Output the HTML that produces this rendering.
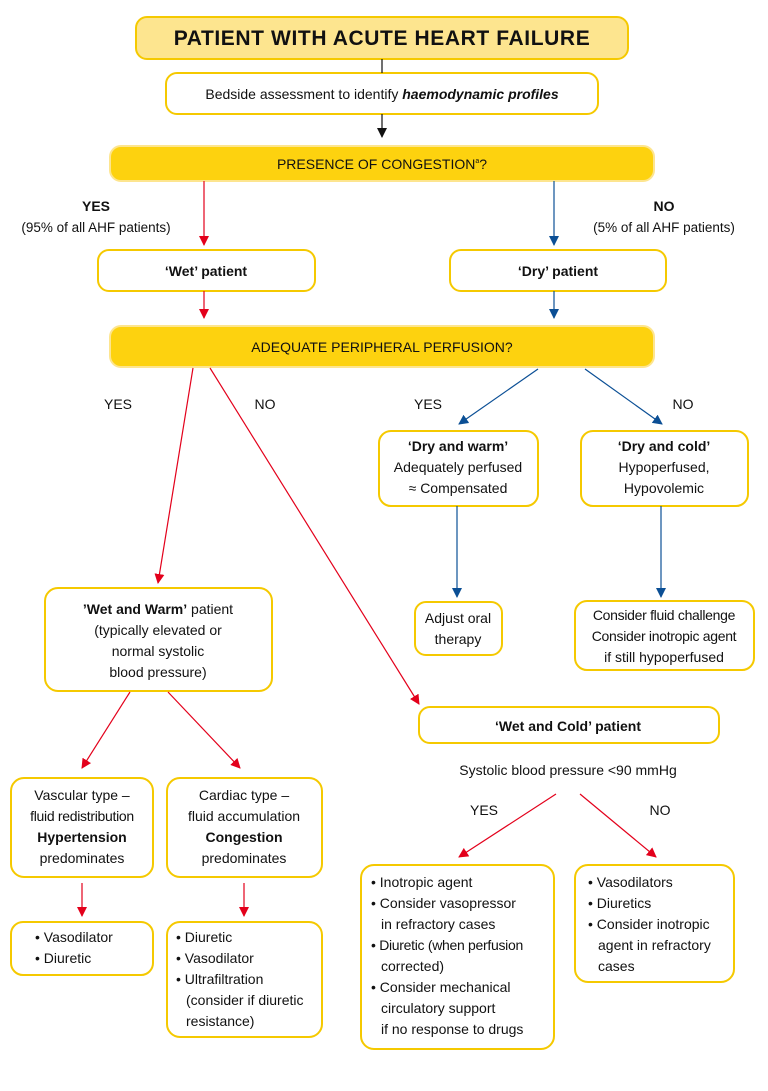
<!DOCTYPE html>
<html><head><meta charset="utf-8"><style>
html,body{margin:0;padding:0;background:#fff}
svg{display:block}
text{font-family:"Liberation Sans",sans-serif;font-size:14px;fill:#111}
.b{font-weight:bold}
</style></head><body>
<svg width="768" height="1091" viewBox="0 0 768 1091" xmlns="http://www.w3.org/2000/svg">
<defs>
<marker id="ar" viewBox="0 0 10 10" refX="9" refY="5" markerWidth="10" markerHeight="10" markerUnits="userSpaceOnUse" orient="auto"><path d="M0,0 L10,5 L0,10 z" fill="#e3001b"/></marker>
<marker id="ab" viewBox="0 0 10 10" refX="9" refY="5" markerWidth="10" markerHeight="10" markerUnits="userSpaceOnUse" orient="auto"><path d="M0,0 L10,5 L0,10 z" fill="#0b4f95"/></marker>
<marker id="ak" viewBox="0 0 10 10" refX="9" refY="5" markerWidth="10" markerHeight="10" markerUnits="userSpaceOnUse" orient="auto"><path d="M0,0 L10,5 L0,10 z" fill="#111"/></marker>
</defs>
<g stroke="#f5c900" stroke-width="2">
<rect x="136" y="17" width="492" height="42" rx="11" fill="#fde58f"/>
<rect x="166" y="73" width="432" height="41" rx="11" fill="#fff"/>
<rect x="110" y="146" width="544" height="35" rx="11" fill="#fdd20f" stroke="#fde58f"/>
<rect x="98" y="250" width="217" height="41" rx="11" fill="#fff"/>
<rect x="450" y="250" width="216" height="41" rx="11" fill="#fff"/>
<rect x="110" y="326" width="544" height="41" rx="11" fill="#fdd20f" stroke="#fde58f"/>
<rect x="379" y="431" width="159" height="75" rx="12" fill="#fff"/>
<rect x="581" y="431" width="167" height="75" rx="12" fill="#fff"/>
<rect x="415" y="602" width="87" height="53" rx="11" fill="#fff"/>
<rect x="575" y="601" width="179" height="69" rx="12" fill="#fff"/>
<rect x="45" y="588" width="227" height="103" rx="13" fill="#fff"/>
<rect x="419" y="707" width="300" height="36" rx="11" fill="#fff"/>
<rect x="11" y="778" width="142" height="99" rx="13" fill="#fff"/>
<rect x="167" y="778" width="155" height="99" rx="13" fill="#fff"/>
<rect x="11" y="922" width="142" height="53" rx="12" fill="#fff"/>
<rect x="167" y="922" width="155" height="115" rx="13" fill="#fff"/>
<rect x="361" y="865" width="193" height="184" rx="13" fill="#fff"/>
<rect x="575" y="865" width="159" height="117" rx="13" fill="#fff"/>
</g>
<g stroke-width="1.2" fill="none">
<line x1="382" y1="59" x2="382" y2="73" stroke="#111"/>
<line x1="382" y1="114" x2="382" y2="137" stroke="#111" marker-end="url(#ak)"/>
<line x1="204" y1="181" x2="204" y2="245" stroke="#e3001b" marker-end="url(#ar)"/>
<line x1="554" y1="181" x2="554" y2="245" stroke="#0b4f95" marker-end="url(#ab)"/>
<line x1="204" y1="291" x2="204" y2="318" stroke="#e3001b" marker-end="url(#ar)"/>
<line x1="554" y1="291" x2="554" y2="318" stroke="#0b4f95" marker-end="url(#ab)"/>
<line x1="193" y1="368" x2="158" y2="583" stroke="#e3001b" marker-end="url(#ar)"/>
<line x1="210" y1="368" x2="419" y2="704" stroke="#e3001b" marker-end="url(#ar)"/>
<line x1="538" y1="369" x2="459" y2="424" stroke="#0b4f95" marker-end="url(#ab)"/>
<line x1="585" y1="369" x2="662" y2="424" stroke="#0b4f95" marker-end="url(#ab)"/>
<line x1="457" y1="506" x2="457" y2="597" stroke="#0b4f95" marker-end="url(#ab)"/>
<line x1="661" y1="506" x2="661" y2="597" stroke="#0b4f95" marker-end="url(#ab)"/>
<line x1="130" y1="692" x2="82" y2="768" stroke="#e3001b" marker-end="url(#ar)"/>
<line x1="168" y1="692" x2="240" y2="768" stroke="#e3001b" marker-end="url(#ar)"/>
<line x1="82" y1="883" x2="82" y2="916" stroke="#e3001b" marker-end="url(#ar)"/>
<line x1="244" y1="883" x2="244" y2="916" stroke="#e3001b" marker-end="url(#ar)"/>
<line x1="556" y1="794" x2="459" y2="857" stroke="#e3001b" marker-end="url(#ar)"/>
<line x1="580" y1="794" x2="656" y2="857" stroke="#e3001b" marker-end="url(#ar)"/>
</g>
<g text-anchor="middle">
<text x="382" y="45" class="b" style="font-size:21px" letter-spacing="0.6">PATIENT WITH ACUTE HEART FAILURE</text>
<text x="382" y="99">Bedside assessment to identify <tspan class="b" font-style="italic">haemodynamic profiles</tspan></text>
<text x="382" y="169">PRESENCE OF CONGESTION<tspan style="font-size:7px" dy="-6">a</tspan><tspan dy="6">?</tspan></text>
<text x="96" y="211" class="b">YES</text>
<text x="96" y="232" style="font-size:13.5px">(95% of all AHF patients)</text>
<text x="664" y="211" class="b">NO</text>
<text x="664" y="232" style="font-size:13.5px">(5% of all AHF patients)</text>
<text x="206" y="276" class="b">‘Wet’ patient</text>
<text x="558" y="276" class="b">‘Dry’ patient</text>
<text x="382" y="352">ADEQUATE PERIPHERAL PERFUSION?</text>
<text x="118" y="409">YES</text>
<text x="265" y="409">NO</text>
<text x="428" y="409">YES</text>
<text x="683" y="409">NO</text>
<text x="458" y="451" class="b">‘Dry and warm’</text>
<text x="458" y="472">Adequately perfused</text>
<text x="458" y="493">≈ Compensated</text>
<text x="664" y="451" class="b">‘Dry and cold’</text>
<text x="664" y="472">Hypoperfused,</text>
<text x="664" y="493">Hypovolemic</text>
<text x="458" y="623">Adjust oral</text>
<text x="458" y="644">therapy</text>
<text x="664" y="620" letter-spacing="-0.3">Consider fluid challenge</text>
<text x="664" y="641" letter-spacing="-0.3">Consider inotropic agent</text>
<text x="664" y="662">if still hypoperfused</text>
<text x="158" y="614"><tspan class="b">’Wet and Warm’</tspan> patient</text>
<text x="158" y="635">(typically elevated or</text>
<text x="158" y="656">normal systolic</text>
<text x="158" y="677">blood pressure)</text>
<text x="568" y="731" class="b">‘Wet and Cold’ patient</text>
<text x="568" y="775">Systolic blood pressure &lt;90 mmHg</text>
<text x="484" y="815">YES</text>
<text x="660" y="815">NO</text>
<text x="82" y="800">Vascular type –</text>
<text x="82" y="821" letter-spacing="-0.3">fluid redistribution</text>
<text x="82" y="842" class="b">Hypertension</text>
<text x="82" y="863">predominates</text>
<text x="244" y="800">Cardiac type –</text>
<text x="244" y="821">fluid accumulation</text>
<text x="244" y="842" class="b">Congestion</text>
<text x="244" y="863">predominates</text>
</g>
<g>
<text x="35" y="942">• Vasodilator</text>
<text x="35" y="963">• Diuretic</text>
<text x="176" y="942">• Diuretic</text>
<text x="176" y="963">• Vasodilator</text>
<text x="176" y="984">• Ultrafiltration</text>
<text x="186" y="1005">(consider if diuretic</text>
<text x="186" y="1026">resistance)</text>
<text x="371" y="887">• Inotropic agent</text>
<text x="371" y="908">• Consider vasopressor</text>
<text x="381" y="929">in refractory cases</text>
<text x="371" y="950" letter-spacing="-0.3">• Diuretic (when perfusion</text>
<text x="381" y="971">corrected)</text>
<text x="371" y="992">• Consider mechanical</text>
<text x="381" y="1013">circulatory support</text>
<text x="381" y="1034">if no response to drugs</text>
<text x="588" y="887">• Vasodilators</text>
<text x="588" y="908">• Diuretics</text>
<text x="588" y="929">• Consider inotropic</text>
<text x="598" y="950">agent in refractory</text>
<text x="598" y="971">cases</text>
</g>
</svg>
</body></html>
